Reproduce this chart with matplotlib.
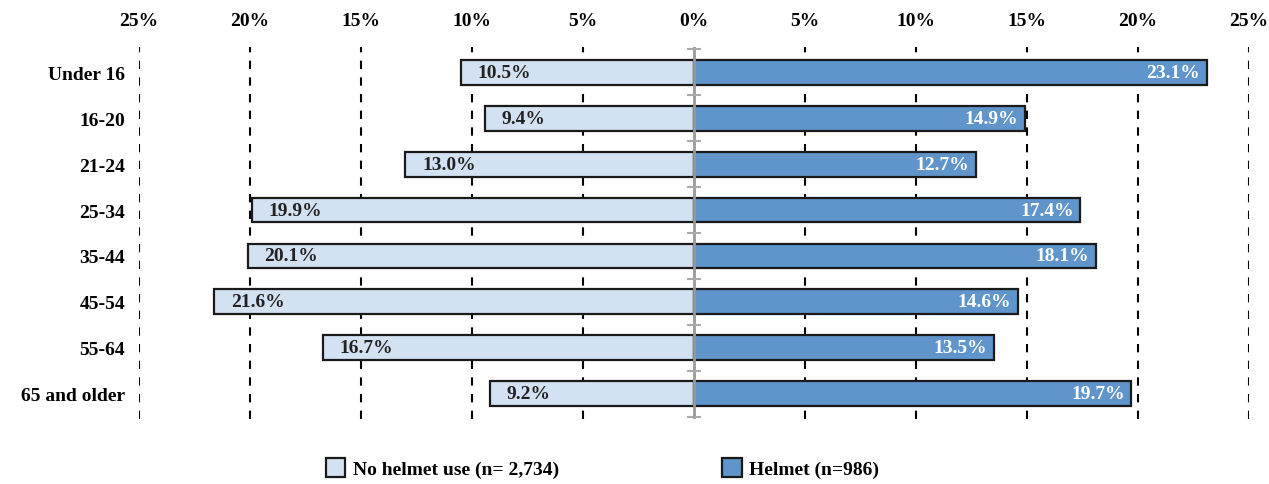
import numpy as np
import matplotlib.pyplot as plt

plt.rcParams['font.family'] = ['Liberation Serif', 'DejaVu Serif']

groups = ['Under 16', '16-20', '21-24', '25-34', '35-44', '45-54', '55-64', '65 and older']
no_helmet = [10.5, 9.4, 13.0, 19.9, 20.1, 21.6, 16.7, 9.2]
helmet = [23.1, 14.9, 12.7, 17.4, 18.1, 14.6, 13.5, 19.7]
ticks = [-25, -20, -15, -10, -5, 0, 5, 10, 15, 20, 25]

light = '#d3e2f3'
dark = '#5f95cb'

fig = plt.figure(figsize=(12.69, 4.85), dpi=100)
ax = fig.add_axes([139 / 1269, 1 - 420 / 485, (1249 - 139) / 1269, (420 - 48) / 485])

y = np.arange(len(groups))
ax.barh(y, [-v for v in no_helmet], height=0.54, color=light, edgecolor='#1a1a1a',
        linewidth=1.6, zorder=3, label='No helmet use (n= 2,734)')
ax.barh(y, helmet, height=0.54, color=dark, edgecolor='#1a1a1a',
        linewidth=1.6, zorder=3, label='Helmet (n=986)')

for yi, v in zip(y, no_helmet):
    ax.text(-v + 0.75, yi, '%.1f%%' % v, ha='left', va='center', fontsize=14,
            fontweight='bold', color='#222222', zorder=5)
for yi, v in zip(y, helmet):
    ax.text(v - 0.3, yi, '%.1f%%' % v, ha='right', va='center', fontsize=14,
            fontweight='bold', color='white', zorder=5)

# dashed guides
for t in ticks:
    if t != 0:
        ax.axvline(t, color='black', linestyle=(0, (4, 4)), linewidth=1.5, zorder=1)

# grey centre axis with small caps at category boundaries
ax.axvline(0, color='#999999', linewidth=2, zorder=4)
for b in np.arange(-0.5, len(groups), 1.0):
    ax.plot([-0.25, 0.25], [b, b], color='#aaaaaa', linewidth=1.5, zorder=4)

ax.set_xlim(-25, 25)
ax.set_ylim(len(groups) - 0.5 + 0.05, -0.55)
ax.set_xticks(ticks)
ax.set_xticklabels(['%d%%' % abs(t) for t in ticks], fontsize=14, fontweight='bold')
ax.xaxis.tick_top()
ax.tick_params(axis='x', length=0, pad=13)
ax.set_yticks(y)
ax.set_yticklabels(groups, fontsize=14, fontweight='bold')
ax.tick_params(axis='y', length=0, pad=10)
for s in ax.spines.values():
    s.set_visible(False)

fig.legend(loc='center left', bbox_to_anchor=(308 / 1269, 1 - 469 / 485), ncol=2, frameon=False,
           prop={'weight': 'bold', 'size': 14}, handlelength=1.0, handleheight=1.1,
           columnspacing=8.4, handletextpad=0.4)

fig.savefig('out.png', dpi=100)
